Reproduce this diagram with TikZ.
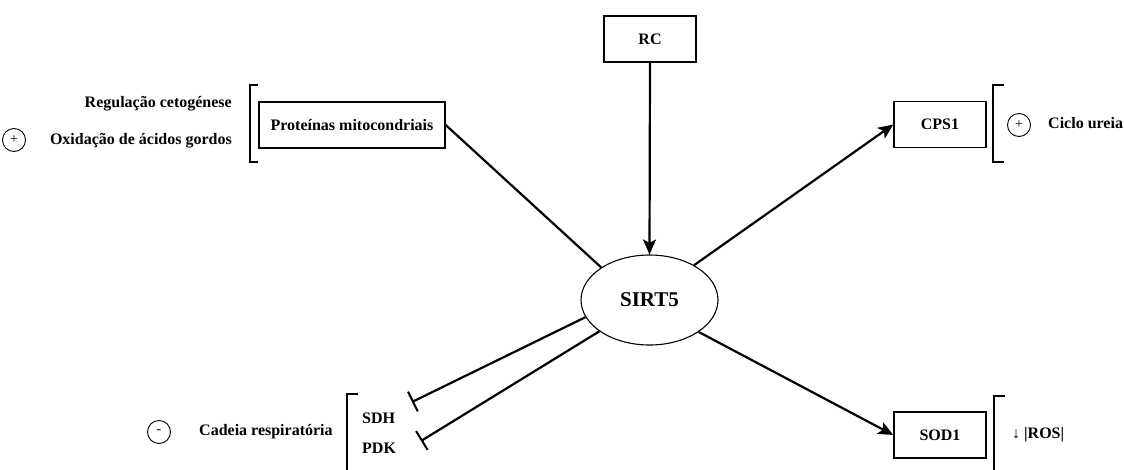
\documentclass[tikz,border=0pt]{standalone}
\usepackage{fontspec}
\setmainfont{Liberation Serif}
\usetikzlibrary{arrows.meta,shapes.geometric}
\begin{document}
\begin{tikzpicture}[x=1pt,y=-1pt,
 box/.style={draw, line width=1.4pt, minimum width=92pt, minimum height=46pt, inner sep=0pt, font=\fontsize{16}{18}\selectfont\bfseries},
 lbl/.style={font=\fontsize{16}{18}\selectfont\bfseries, inner sep=0pt},
 sign/.style={draw, circle, line width=0.9pt, minimum size=23pt, inner sep=0pt, font=\fontsize{14}{14}\selectfont},
 conn/.style={line width=2.2pt},
 act/.style={conn, -{Stealth[length=15pt,width=13pt,inset=3.5pt]}},
 inh/.style={conn, -{Bar[width=22pt,line width=2pt]}},
 brk/.style={line width=1.2pt}
]
\useasboundingbox (0,0) rectangle (1124,469);

% main nodes
\node[box] (rc) at (650,39) {RC};
\node[box, minimum width=186pt] (prot) at (352,125) {Proteínas mitocondriais};
\node[box] (cps) at (940,124.5) {CPS1};
\node[box] (sod) at (940,435) {SOD1};
\node[draw, ellipse, line width=1.1pt, minimum width=137pt, minimum height=90pt, inner sep=0pt,
      font=\fontsize{21}{22}\selectfont\bfseries] (sirt) at (649.5,300) {SIRT5};

% left group
\node[lbl, anchor=east] (reg) at (232,104) {Regulação cetogénese};
\node[lbl, anchor=east] (oxi) at (232,141) {Oxidação de ácidos gordos};
\node[sign] (plus1) at (14,140) {+};
\draw[brk] (258,85) -- (250,85) -- (250,162) -- (258,162);

% right top group
\draw[brk] (1004,85) -- (993,85) -- (993,162) -- (1004,162);
\node[sign] (plus2) at (1019,125) {+};
\node[lbl, anchor=west] (ciclo) at (1048,123) {Ciclo ureia};

% bottom left group
\node[sign] (minus) at (159,432) {-};
\node[lbl, anchor=west] (cad) at (199,432) {Cadeia respiratória};
\draw[brk] (358,394) -- (347,394) -- (347,470);
\node[lbl, anchor=west] (sdh) at (362,418) {SDH};
\node[lbl, anchor=west] (pdk) at (362,448) {PDK};
\coordinate (sdhEnd) at (412,402);
\coordinate (pdkEnd) at (421,441);

% bottom right group
\draw[brk] (1005,396) -- (994,396) -- (994,470);
\node[lbl, anchor=west] (ros) at (1012,435) {{\mdseries ↓} |ROS|};

% connectors
\draw[act] (rc.south) -- (sirt.north);
\draw[conn] (prot.east) -- (sirt.146);
\draw[act] (sirt.38) -- (cps.west);
\draw[act] (sirt.-33) -- (sod.west);
\draw[inh] (sirt.195) -- (sdhEnd);
\draw[inh] (sirt.212) -- (pdkEnd);
\end{tikzpicture}
\end{document}
